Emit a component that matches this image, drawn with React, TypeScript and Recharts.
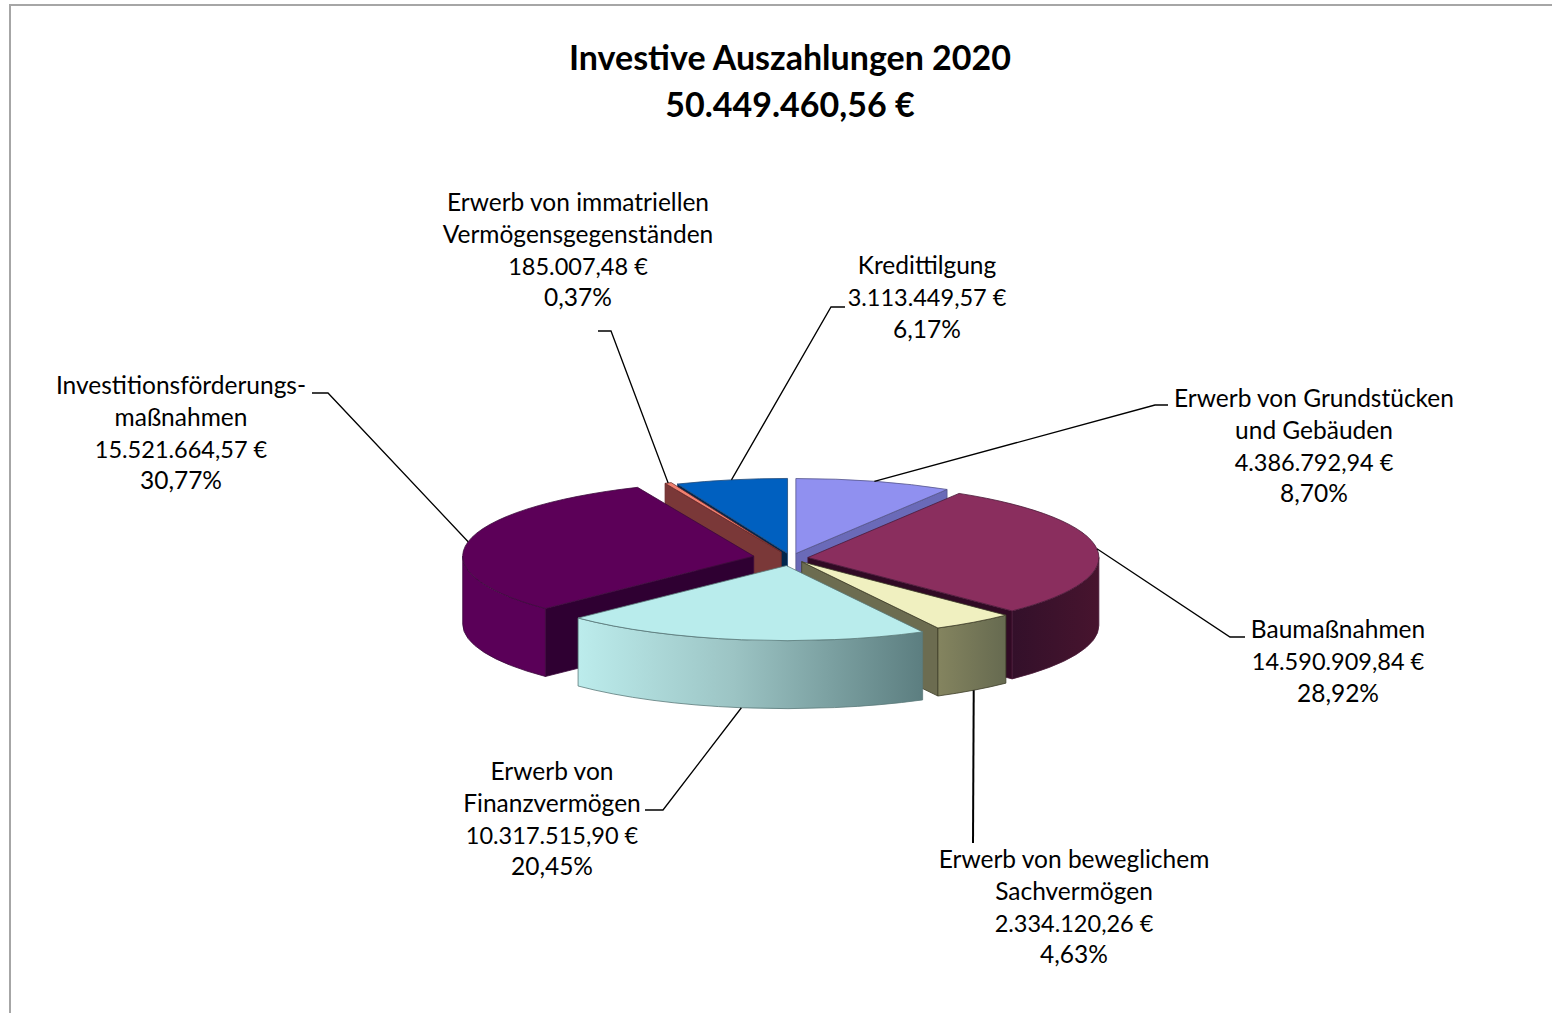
import { PieChart, Pie } from 'recharts';

const categories = [
  ['Erwerb von Grundstücken', 'und Gebäuden'],
  ['Baumaßnahmen'],
  ['Erwerb von beweglichem', 'Sachvermögen'],
  ['Erwerb von', 'Finanzvermögen'],
  ['Investitionsförderungs-', 'maßnahmen'],
  ['Erwerb von immatriellen', 'Vermögensgegenständen'],
  ['Kredittilgung'],
];
const values = [4386792.94, 14590909.84, 2334120.26, 10317515.9, 15521664.57, 185007.48, 3113449.57];
const titleLines = ['Investive Auszahlungen 2020', '50.449.460,56 €'];

const data = values.map((value, i) => ({ name: categories[i].join(' '), value }));

// look of the slices, same order as the data
const topColors = ['#9090f0', '#8a2e5e', '#f0f0c0', '#b9ecec', '#5c0058', '#f08070', '#0060c0'];
const wallColors = ['#6a6ab8', 'url(#wallBordeaux)', 'url(#wallOlive)', 'url(#wallTeal)', '#5a0058', '#7a3838', '#003060'];
const faceColors = ['#6a6ab8', '#300a24', '#6c6c50', '#5e8082', '#2f0032', '#7a3838', '#00264d'];
const outlines = ['#55558a', '#4a1a38', '#3f3f2a', '#5a7a7a', '#3c0a3c', '#6a2a2a', '#1f4a7a'];
const explode = [18, 17, 18, 30, 38, 25, 18];
const paintOrder = [0, 6, 5, 1, 4, 2, 3];

// label placement, same order as the data
const labelX = [1314, 1338, 1074, 552, 181, 578, 927];
const labelY = [407, 638, 868, 780, 394, 211, 274];
const leaders = [
  [[1155, 405], [1168, 405]],
  [[1230, 637], [1245, 637]],
  [[973, 843]],
  [[663, 810], [645, 810]],
  [[328, 393], [312, 393]],
  [[611, 331], [598, 331]],
  [[831, 307], [845, 307]],
];

const FONT = 'Lato, sans-serif';
const CX = 791;
const CY = 558;
const RX = 291;
const SQUASH = 75 / 291;
const DEPTH = 68;
const LINE = 31.8;

const RAD = Math.PI / 180;
// recharts angle (ccw from east) to a point on the squashed circle
const pt = (cx: number, cy: number, r: number, angle: number) => [
  cx + r * Math.cos(angle * RAD),
  cy - r * SQUASH * Math.sin(angle * RAD),
];
const tipOf = (cx: number, cy: number, i: number, mid: number) => pt(cx, cy, explode[i], mid);

const de = (n: number) =>
  n.toLocaleString('de-DE', { minimumFractionDigits: 2, maximumFractionDigits: 2 });

const arc = (r: number, to: number[], large: number, sweep: number) =>
  `A${r} ${r * SQUASH} 0 ${large} ${sweep} ${to[0]} ${to[1]}`;

const makeShape = (i: number) => (props: any) => {
  const { cx, cy, outerRadius: r, startAngle, endAngle, name } = props;
  if (name !== data[i].name) return <g />;
  const mid = (startAngle + endAngle) / 2;
  const [tx, ty] = tipOf(cx, cy, i, mid);
  const a = pt(tx, ty, r, startAngle);
  const b = pt(tx, ty, r, endAngle);
  const down = (p: number[]) => [p[0], p[1] + DEPTH];
  const face = (p: number[]) =>
    `M${tx} ${ty}L${p[0]} ${p[1]}L${p[0]} ${p[1] + DEPTH}L${tx} ${ty + DEPTH}Z`;

  // clockwise from the top: start face shows in the left half, end face in the right half
  const startShows = Math.cos(startAngle * RAD) < 0;
  const endShows = Math.cos(endAngle * RAD) > 0;

  // outer wall only for the part of the arc that faces the viewer (lower half)
  const from = Math.min(startAngle, 0);
  const to = Math.max(endAngle, -180);
  const hasWall = from > to;
  const w1 = pt(tx, ty, r, from);
  const w2 = pt(tx, ty, r, to);
  return (
    <g>
      {startShows && <path d={face(a)} fill={faceColors[i]} stroke={outlines[i]} strokeWidth={0.8} />}
      {endShows && <path d={face(b)} fill={faceColors[i]} stroke={outlines[i]} strokeWidth={0.8} />}
      {hasWall && (
        <path
          d={`M${w1[0]} ${w1[1]}${arc(r, w2, 0, 1)}L${down(w2).join(' ')}${arc(r, down(w1), 0, 0)}Z`}
          fill={wallColors[i]}
          stroke={outlines[i]}
          strokeWidth={0.8}
        />
      )}
      <path
        d={`M${tx} ${ty}L${a[0]} ${a[1]}${arc(r, b, startAngle - endAngle > 180 ? 1 : 0, 1)}Z`}
        fill={topColors[i]}
        stroke={outlines[i]}
        strokeWidth={0.8}
      />
    </g>
  );
};

const renderLabel = (props: any) => {
  const { cx, cy, outerRadius: r, midAngle, percent, index: i, value } = props;
  const [tx, ty] = tipOf(cx, cy, i, midAngle);
  const p = pt(tx, ty, r, midAngle);
  const front = Math.sin(midAngle * RAD) < -0.3;
  const start = [p[0], front ? p[1] + DEPTH : p[1]];
  const names = categories[i].length;
  const lines = [...categories[i], `${de(value)} €`, `${de(percent * 100)}%`];
  return (
    <g key={i}>
      <polyline
        points={[start, ...leaders[i]].map((q) => q.join(',')).join(' ')}
        fill="none"
        stroke="#000"
        strokeWidth={i === 2 ? 2 : 1.3}
      />
      <text textAnchor="middle" fontFamily={FONT} fill="#000">
        {lines.map((t, k) => (
          <tspan key={k} x={labelX[i]} y={labelY[i] + k * LINE} fontSize={k === names ? 23.5 : 24.5}>
            {t}
          </tspan>
        ))}
      </text>
    </g>
  );
};

export default function App() {
  return (
    <div style={{ position: 'absolute', left: 0, top: 0, width: 1552, height: 1013, background: '#fff' }}>
      <PieChart width={1552} height={1013} margin={{ top: 0, right: 0, bottom: 0, left: 0 }}>
        <defs>
          <linearGradient id="wallTeal" x1="0" y1="0" x2="1" y2="0">
            <stop offset="0" stopColor="#bcecec" />
            <stop offset="0.45" stopColor="#9cc4c4" />
            <stop offset="1" stopColor="#5c7e80" />
          </linearGradient>
          <linearGradient id="wallOlive" x1="0" y1="0" x2="1" y2="0">
            <stop offset="0" stopColor="#84845f" />
            <stop offset="1" stopColor="#666a50" />
          </linearGradient>
          <linearGradient id="wallBordeaux" x1="0" y1="0" x2="1" y2="0">
            <stop offset="0" stopColor="#33102a" />
            <stop offset="1" stopColor="#47142e" />
          </linearGradient>
        </defs>
        <path d="M10 1013V5H1552" fill="none" stroke="#a6a6a6" strokeWidth={2} />
        {paintOrder.map((i) => (
          <Pie
            key={i}
            data={data}
            dataKey="value"
            nameKey="name"
            cx={CX}
            cy={CY}
            outerRadius={RX}
            startAngle={90}
            endAngle={-270}
            stroke="none"
            isAnimationActive={false}
            shape={makeShape(i)}
          />
        ))}
        <Pie
          data={data}
          dataKey="value"
          nameKey="name"
          cx={CX}
          cy={CY}
          outerRadius={RX}
          startAngle={90}
          endAngle={-270}
          fill="none"
          stroke="none"
          isAnimationActive={false}
          label={renderLabel}
          labelLine={false}
          shape={() => <g />}
        />
        {titleLines.map((t, k) => (
          <text
            key={k}
            x={790}
            y={70 + k * 47}
            textAnchor="middle"
            fontFamily={FONT}
            fontWeight={700}
            fontSize={34}
            fill="#000"
          >
            {t}
          </text>
        ))}
      </PieChart>
    </div>
  );
}
